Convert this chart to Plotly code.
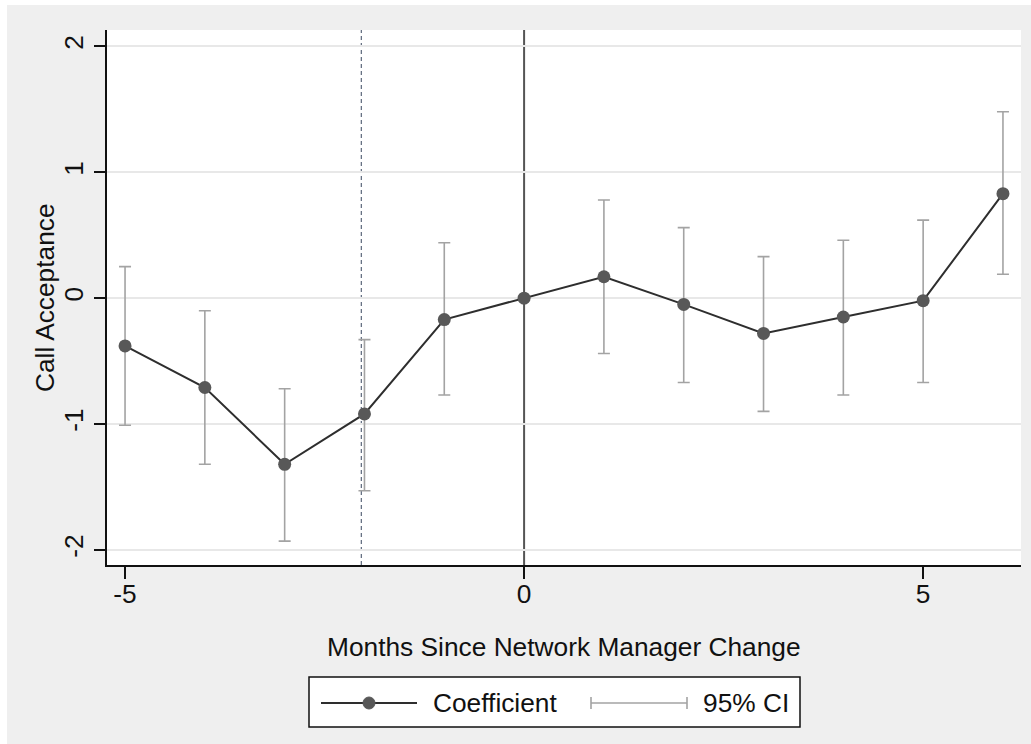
import plotly.graph_objects as go

# Event-study estimates: months relative to the network manager change
months = [-5, -4, -3, -2, -1, 0, 1, 2, 3, 4, 5, 6]
coef = [-0.38, -0.71, -1.32, -0.92, -0.17, 0.0, 0.17, -0.05, -0.28, -0.15, -0.02, 0.83]
ci_low = [-1.01, -1.32, -1.93, -1.53, -0.77, None, -0.44, -0.67, -0.90, -0.77, -0.67, 0.19]
ci_high = [0.25, -0.10, -0.72, -0.33, 0.44, None, 0.78, 0.56, 0.33, 0.46, 0.62, 1.48]

x_ticks = [-5, 0, 5]
x_tick_labels = ["-5", "0", "5"]
y_ticks = [-2, -1, 0, 1, 2]
y_tick_labels = ["-2", "-1", "0", "1", "2"]
ref_line_solid = 0
ref_line_dashed = -2.04

W, H = 1031, 744
L, R, T, B = 107, 10, 30, 179
PW, PH = W - L - R, H - T - B

FONT = "Liberation Sans, Arial, sans-serif"
TXT = "#111111"
FS = 26.3


def px(xp):
    return (xp - L) / PW


def py(yp):
    return (H - B - yp) / PH


# error bars only where an interval is estimated
ci_x, ci_y, ci_up, ci_dn = [], [], [], []
for m, c, lo, hi in zip(months, coef, ci_low, ci_high):
    if lo is None:
        continue
    ci_x.append(m)
    ci_y.append(c)
    ci_up.append(hi - c)
    ci_dn.append(c - lo)

fig = go.Figure()

fig.add_trace(go.Scatter(
    x=ci_x, y=ci_y, mode="markers",
    marker=dict(size=1, opacity=0),
    error_y=dict(type="data", array=ci_up, arrayminus=ci_dn,
                 color="#a3a3a3", thickness=1.6, width=6),
    showlegend=False, hoverinfo="skip",
))

fig.add_trace(go.Scatter(
    x=months, y=coef, mode="lines+markers",
    line=dict(color="#2e2e2e", width=2),
    marker=dict(color="#585858", size=13),
    showlegend=False,
))

shapes = [
    # outer frame
    dict(type="rect", xref="paper", yref="paper",
         x0=px(0), x1=px(7), y0=py(H), y1=py(0),
         fillcolor="white", line=dict(width=0), layer="below"),
    dict(type="rect", xref="paper", yref="paper",
         x0=px(0), x1=px(W), y0=py(5), y1=py(0),
         fillcolor="white", line=dict(width=0), layer="below"),
    # reference lines
    dict(type="line", xref="x", yref="paper",
         x0=ref_line_solid, x1=ref_line_solid, y0=0, y1=1,
         line=dict(color="#555555", width=2), layer="below"),
    dict(type="line", xref="x", yref="paper",
         x0=ref_line_dashed, x1=ref_line_dashed, y0=0, y1=1,
         line=dict(color="#3a4860", width=1, dash="4px,3px"), layer="below"),
    # legend box
    dict(type="rect", xref="paper", yref="paper",
         x0=px(309), x1=px(800), y0=py(727), y1=py(677),
         fillcolor="white", line=dict(color="#111111", width=1.5)),
    # legend: coefficient symbol
    dict(type="line", xref="paper", yref="paper",
         x0=px(321), x1=px(417), y0=py(703), y1=py(703),
         line=dict(color="#2e2e2e", width=2)),
    dict(type="circle", xref="paper", yref="paper",
         x0=px(363), x1=px(375), y0=py(709), y1=py(697),
         fillcolor="#585858", line=dict(color="#585858", width=1)),
    # legend: CI symbol
    dict(type="line", xref="paper", yref="paper",
         x0=px(591), x1=px(687), y0=py(703), y1=py(703),
         line=dict(color="#a3a3a3", width=1.6)),
    dict(type="line", xref="paper", yref="paper",
         x0=px(591), x1=px(591), y0=py(709), y1=py(697),
         line=dict(color="#a3a3a3", width=1.6)),
    dict(type="line", xref="paper", yref="paper",
         x0=px(687), x1=px(687), y0=py(709), y1=py(697),
         line=dict(color="#a3a3a3", width=1.6)),
]

annotations = [
    dict(text="Coefficient", xref="paper", yref="paper", x=px(431), y=py(703),
         xanchor="left", yanchor="middle", showarrow=False,
         font=dict(family=FONT, size=FS, color=TXT)),
    dict(text="95% CI", xref="paper", yref="paper", x=px(701), y=py(703),
         xanchor="left", yanchor="middle", showarrow=False,
         font=dict(family=FONT, size=FS, color=TXT)),
    dict(text="Months Since Network Manager Change", xref="paper", yref="paper",
         x=px(564), y=py(647), xanchor="center", yanchor="middle", showarrow=False,
         font=dict(family=FONT, size=FS, color=TXT)),
    dict(text="Call Acceptance", xref="paper", yref="paper",
         x=px(45), y=py(298), xanchor="center", yanchor="middle", showarrow=False,
         textangle=-90, font=dict(family=FONT, size=FS, color=TXT)),
]

fig.update_layout(
    width=W, height=H,
    margin=dict(l=L, r=R, t=T, b=B),
    paper_bgcolor="#efefef",
    plot_bgcolor="white",
    font=dict(family=FONT, size=FS, color=TXT),
    shapes=shapes,
    annotations=annotations,
    showlegend=False,
    xaxis=dict(
        range=[-5.226, 6.226], tickvals=x_ticks, ticktext=x_tick_labels,
        ticks="outside", ticklen=12, tickwidth=2, tickcolor="#111111",
        ticklabelstandoff=-8,
        showline=True, linecolor="#111111", linewidth=2,
        showgrid=False, zeroline=False,
        tickfont=dict(family=FONT, size=FS, color=TXT),
    ),
    yaxis=dict(
        range=[-2.12, 2.13], tickvals=y_ticks, ticktext=y_tick_labels,
        ticks="outside", ticklen=11, tickwidth=2, tickcolor="#111111",
        showline=True, linecolor="#111111", linewidth=2,
        showgrid=True, gridcolor="#e8e8e8", gridwidth=1.5,
        zeroline=False, tickangle=-90,
        tickfont=dict(family=FONT, size=FS, color=TXT),
    ),
)

fig.write_html("out.html")
